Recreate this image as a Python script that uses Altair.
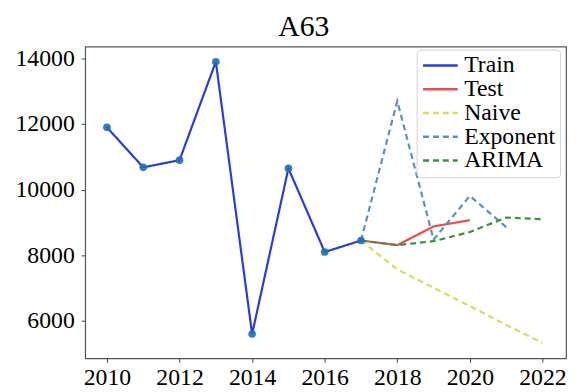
import altair as alt
import pandas as pd

series_order = ["Train", "Test", "Naive", "Exponent", "ARIMA"]
colors = ["#2a3bdc", "#ea4a4f", "#d2df58", "#5a8fc2", "#3f8f3f"]

years_train = [2010, 2011, 2012, 2013, 2014, 2015, 2016, 2017]
train = [11900, 10680, 10900, 13900, 5600, 10650, 8100, 8450]

years_test = [2017, 2018, 2019, 2020]
test = [8450, 8310, 8880, 9070]

years_naive = [2017, 2018, 2019, 2020, 2021, 2022]
naive = [8450, 7570, 7010, 6450, 5880, 5330]

years_exp = [2017, 2018, 2019, 2020, 2021]
exponent = [8450, 12700, 8480, 9810, 8860]

years_arima = [2017, 2018, 2019, 2020, 2021, 2022]
arima = [8450, 8310, 8430, 8710, 9150, 9100]

x_ticks = [2010, 2012, 2014, 2016, 2018, 2020, 2022]
y_ticks = [6000, 8000, 10000, 12000, 14000]

rows = []
for name, ys, vs in [("Train", years_train, train), ("Test", years_test, test),
                     ("Naive", years_naive, naive), ("Exponent", years_exp, exponent),
                     ("ARIMA", years_arima, arima)]:
    for y, v in zip(ys, vs):
        rows.append({"series": name, "year": y, "value": v})
df = pd.DataFrame(rows)
df_train = pd.DataFrame({"year": years_train, "value": train})

FONT = "Liberation Serif"

x_enc = alt.X("year:Q", scale=alt.Scale(domain=[2009.4, 2022.65], nice=False, zero=False),
              axis=alt.Axis(values=x_ticks, format="d", title=None, grid=False,
                            tickSize=4, labelPadding=3, domain=False))
y_enc = alt.Y("value:Q", scale=alt.Scale(domain=[4860, 14360], nice=False, zero=False),
              axis=alt.Axis(values=y_ticks, format="d", title=None, grid=False,
                            tickSize=4, labelPadding=7, domain=False))


def make_legend():
    return alt.Legend(title=None, orient="none", legendX=335, legendY=3,
                      symbolType="stroke", symbolSize=1225,
                      symbolStrokeWidth=2.5, rowPadding=0, clipHeight=22,
                      labelFont=FONT, labelFontSize=24, labelColor="black",
                      labelOffset=5,
                      fillColor="white", strokeColor="#d0d0d0",
                      cornerRadius=4, padding=5)


lines = alt.Chart(df).mark_line(strokeWidth=2.2).encode(
    x=x_enc,
    y=y_enc,
    color=alt.Color("series:N", sort=series_order,
                    scale=alt.Scale(domain=series_order, range=colors),
                    legend=make_legend()),
    strokeDash=alt.StrokeDash("series:N", sort=series_order,
                              scale=alt.Scale(domain=series_order,
                                              range=[[1, 0], [1, 0], [6, 4], [6, 4], [6, 4]]),
                              legend=make_legend()),
)

points = alt.Chart(df_train).mark_circle(size=60, color="#1f6fb0", opacity=0.9).encode(
    x=alt.X("year:Q"), y=alt.Y("value:Q")
)

chart = alt.layer(lines, points).properties(
    width=486, height=315,
    title=alt.TitleParams("A63", font=FONT, fontSize=30, fontWeight="normal",
                          color="black", offset=5, anchor="middle", dx=-22),
    autosize=alt.AutoSizeParams(type="none"),
    padding={"left": 78, "top": 37, "right": 5, "bottom": 32},
).configure_view(stroke="#555555", strokeWidth=1.2).configure_axis(
    labelFont=FONT, labelFontSize=24, labelColor="black", tickColor="#444444"
)

chart.save("out.html", embed_options={"renderer": "svg", "actions": False})
